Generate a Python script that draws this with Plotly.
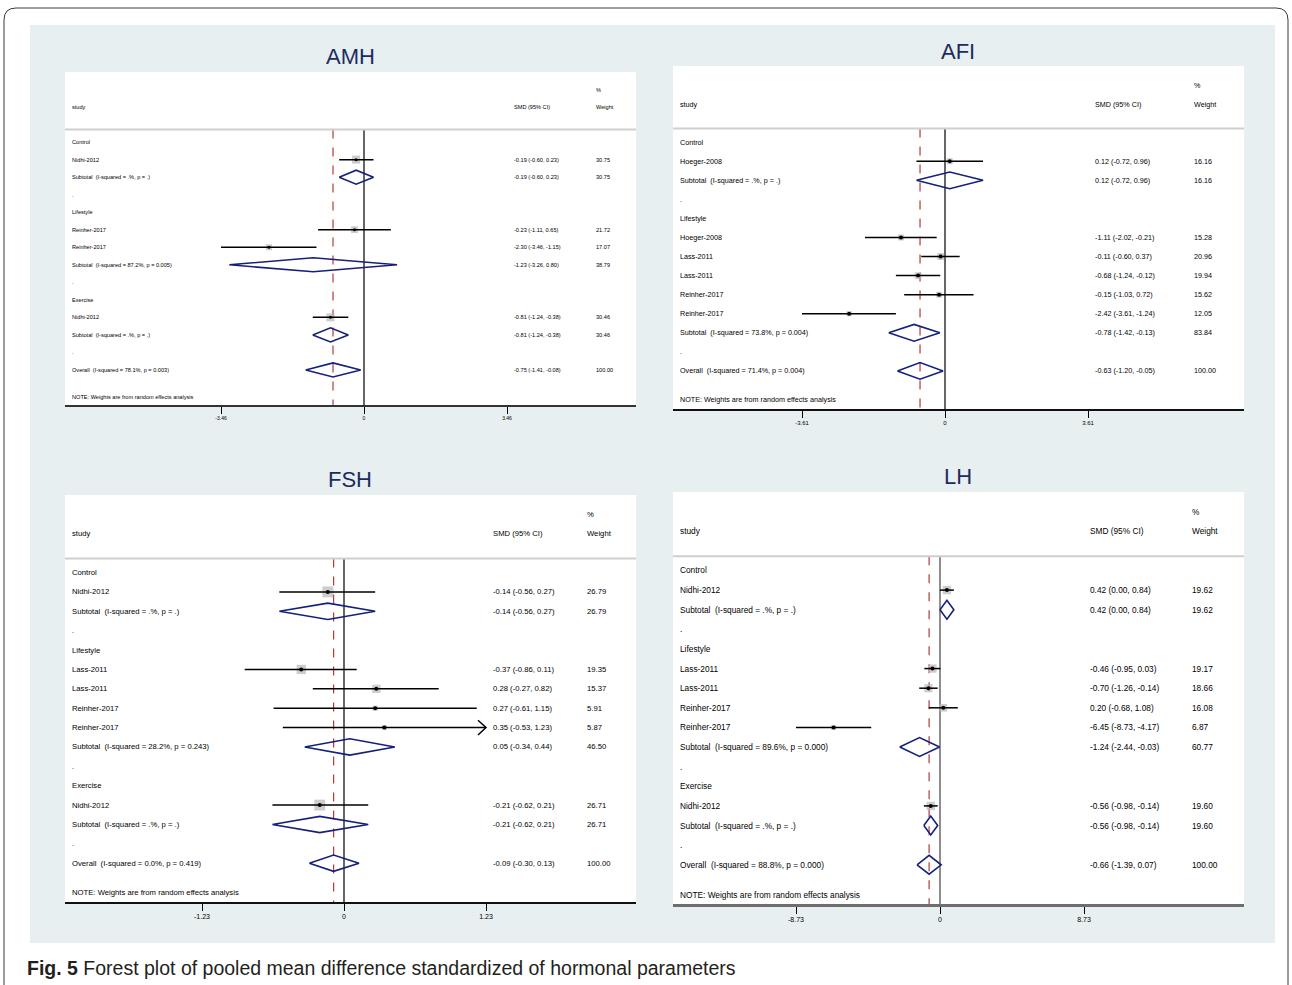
import plotly.graph_objects as go

FIG_W, FIG_H = 1292, 985

# ---------------- data ----------------
AMH_LABELS = ["Control", "Nidhi-2012", "Subtotal  (I-squared = .%, p = .)", ".", "Lifestyle",
              "Reinher-2017", "Reinher-2017", "Subtotal  (I-squared = 87.2%, p = 0.005)", ".",
              "Exercise", "Nidhi-2012", "Subtotal  (I-squared = .%, p = .)", ".",
              "Overall  (I-squared = 78.1%, p = 0.003)"]
AMH_ES = [None, -0.19, -0.19, None, None, -0.23, -2.30, -1.23, None, None, -0.81, -0.81, None, -0.75]
AMH_LO = [None, -0.60, -0.60, None, None, -1.11, -3.46, -3.26, None, None, -1.24, -1.24, None, -1.41]
AMH_HI = [None, 0.23, 0.23, None, None, 0.65, -1.15, 0.80, None, None, -0.38, -0.38, None, -0.08]
AMH_W = [None, 30.75, 30.75, None, None, 21.72, 17.07, 38.79, None, None, 30.46, 30.46, None, 100.00]
AMH_TICK = 3.46

AFI_LABELS = ["Control", "Hoeger-2008", "Subtotal  (I-squared = .%, p = .)", ".", "Lifestyle",
              "Hoeger-2008", "Lass-2011", "Lass-2011", "Reinher-2017", "Reinher-2017",
              "Subtotal  (I-squared = 73.8%, p = 0.004)", ".",
              "Overall  (I-squared = 71.4%, p = 0.004)"]
AFI_ES = [None, 0.12, 0.12, None, None, -1.11, -0.11, -0.68, -0.15, -2.42, -0.78, None, -0.63]
AFI_LO = [None, -0.72, -0.72, None, None, -2.02, -0.60, -1.24, -1.03, -3.61, -1.42, None, -1.20]
AFI_HI = [None, 0.96, 0.96, None, None, -0.21, 0.37, -0.12, 0.72, -1.24, -0.13, None, -0.05]
AFI_W = [None, 16.16, 16.16, None, None, 15.28, 20.96, 19.94, 15.62, 12.05, 83.84, None, 100.00]
AFI_TICK = 3.61

FSH_LABELS = ["Control", "Nidhi-2012", "Subtotal  (I-squared = .%, p = .)", ".", "Lifestyle",
              "Lass-2011", "Lass-2011", "Reinher-2017", "Reinher-2017",
              "Subtotal  (I-squared = 28.2%, p = 0.243)", ".", "Exercise", "Nidhi-2012",
              "Subtotal  (I-squared = .%, p = .)", ".", "Overall  (I-squared = 0.0%, p = 0.419)"]
FSH_ES = [None, -0.14, -0.14, None, None, -0.37, 0.28, 0.27, 0.35, 0.05, None, None, -0.21, -0.21, None, -0.09]
FSH_LO = [None, -0.56, -0.56, None, None, -0.86, -0.27, -0.61, -0.53, -0.34, None, None, -0.62, -0.62, None, -0.30]
FSH_HI = [None, 0.27, 0.27, None, None, 0.11, 0.82, 1.15, 1.23, 0.44, None, None, 0.21, 0.21, None, 0.13]
FSH_W = [None, 26.79, 26.79, None, None, 19.35, 15.37, 5.91, 5.87, 46.50, None, None, 26.71, 26.71, None, 100.00]
FSH_TICK = 1.23
FSH_ARROW_ROWS = [8]

LH_LABELS = ["Control", "Nidhi-2012", "Subtotal  (I-squared = .%, p = .)", ".", "Lifestyle",
             "Lass-2011", "Lass-2011", "Reinher-2017", "Reinher-2017",
             "Subtotal  (I-squared = 89.6%, p = 0.000)", ".", "Exercise", "Nidhi-2012",
             "Subtotal  (I-squared = .%, p = .)", ".", "Overall  (I-squared = 88.8%, p = 0.000)"]
LH_ES = [None, 0.42, 0.42, None, None, -0.46, -0.70, 0.20, -6.45, -1.24, None, None, -0.56, -0.56, None, -0.66]
LH_LO = [None, 0.00, 0.00, None, None, -0.95, -1.26, -0.68, -8.73, -2.44, None, None, -0.98, -0.98, None, -1.39]
LH_HI = [None, 0.84, 0.84, None, None, 0.03, -0.14, 1.08, -4.17, -0.03, None, None, -0.14, -0.14, None, 0.07]
LH_W = [None, 19.62, 19.62, None, None, 19.17, 18.66, 16.08, 6.87, 60.77, None, None, 19.60, 19.60, None, 100.00]
LH_TICK = 8.73

CAPTION_BOLD = "Fig. 5"
CAPTION_TEXT = "Forest plot of pooled mean difference standardized of hormonal parameters"

# ---------------- style / layout ----------------
FONT = "Liberation Sans, Arial, sans-serif"
NAVY = "#14207a"
RED = "#b23a3a"
BOX_GRAY = "#b8b8b8"
PANEL_BG = "#e8eff1"

PANELS = [
    dict(title="AMH", labels=AMH_LABELS, es=AMH_ES, lo=AMH_LO, hi=AMH_HI, w=AMH_W, tick=AMH_TICK,
         arrows=[], box=(65, 72, 636, 405), zero_px=364, tick_px=507, cols=(70, 512, 594),
         font=5.6, tickfont=5, k=1.45, dot=3, dh=0.4, title_xy=(350, 57),
         axis_color="#333333", axis_w=2, zero_color="black"),
    dict(title="AFI", labels=AFI_LABELS, es=AFI_ES, lo=AFI_LO, hi=AFI_HI, w=AFI_W, tick=AFI_TICK,
         arrows=[], box=(673, 66, 1244, 409), zero_px=945, tick_px=1088, cols=(678, 1093, 1192),
         font=7.2, tickfont=6, k=1.5, dot=4, dh=0.44, title_xy=(958, 52),
         axis_color="#111111", axis_w=2, zero_color="black"),
    dict(title="FSH", labels=FSH_LABELS, es=FSH_ES, lo=FSH_LO, hi=FSH_HI, w=FSH_W, tick=FSH_TICK,
         arrows=FSH_ARROW_ROWS, box=(65, 495, 636, 902), zero_px=344, tick_px=486, cols=(70, 491, 585),
         font=7.7, tickfont=7, k=2.1, dot=4, dh=0.42, title_xy=(350, 479),
         axis_color="#111111", axis_w=2, zero_color="black"),
    dict(title="LH", labels=LH_LABELS, es=LH_ES, lo=LH_LO, hi=LH_HI, w=LH_W, tick=LH_TICK,
         arrows=[], box=(673, 492, 1244, 904), zero_px=940, tick_px=1084, cols=(678, 1088, 1190),
         font=8.3, tickfont=7, k=1.9, dot=4, dh=0.48, title_xy=(958, 476),
         axis_color="#6e6e6e", axis_w=3, zero_color="#444444"),
]

fig = go.Figure()
shapes = []
annotations = []

# background panel + border
shapes.append(dict(type="rect", xref="paper", yref="paper", x0=30 / FIG_W, x1=1275 / FIG_W,
                   y0=1 - 943 / FIG_H, y1=1 - 25 / FIG_H, fillcolor=PANEL_BG, line=dict(width=0),
                   layer="below"))
shapes.append(dict(type="path", xref="paper", yref="paper",
                   path="M {a} {b} L {a} {c} Q {a} {d} {e} {d} L {f} {d} Q {g} {d} {g} {c} L {g} {b}".format(
                       a=4 / FIG_W, b=0, c=1 - 20 / FIG_H, d=1 - 8 / FIG_H, e=16 / FIG_W,
                       f=1276 / FIG_W, g=1288 / FIG_W),
                   line=dict(color="#3a3a3a", width=1), layer="below"))

layout_axes = {}
for i, p in enumerate(PANELS):
    n = i + 1
    xa = "x" if n == 1 else f"x{n}"
    ya = "y" if n == 1 else f"y{n}"
    x0, ytop, x1, ybot = p["box"]
    ppu = (p["tick_px"] - p["zero_px"]) / p["tick"]
    xr = [(x0 - p["zero_px"]) / ppu, (x1 - p["zero_px"]) / ppu]
    last = len(p["labels"]) - 1
    yr = [last + 2, -4]

    # white plot area
    shapes.append(dict(type="rect", xref="paper", yref="paper", x0=x0 / FIG_W, x1=x1 / FIG_W,
                       y0=1 - ybot / FIG_H, y1=1 - ytop / FIG_H, fillcolor="white",
                       line=dict(width=0), layer="below"))

    layout_axes["xaxis" if n == 1 else f"xaxis{n}"] = dict(
        domain=[x0 / FIG_W, x1 / FIG_W], range=xr, anchor=ya,
        tickvals=[-p["tick"], 0, p["tick"]],
        ticktext=[f"{-p['tick']:.2f}", "0", f"{p['tick']:.2f}"],
        ticks="outside", ticklen=7, tickwidth=1, tickcolor="black",
        showline=True, linecolor=p["axis_color"], linewidth=p["axis_w"],
        showgrid=False, zeroline=False, fixedrange=True,
        tickfont=dict(family=FONT, size=p["tickfont"], color="black"))
    layout_axes["yaxis" if n == 1 else f"yaxis{n}"] = dict(
        domain=[1 - ybot / FIG_H, 1 - ytop / FIG_H], range=yr, anchor=xa,
        visible=False, fixedrange=True)

    sep_y = -0.72
    overall_es = p["es"][last]
    shapes.append(dict(type="line", xref=f"{xa} domain", yref=ya, x0=0, x1=1, y0=sep_y, y1=sep_y,
                       line=dict(color="#cfcfcf", width=2)))
    shapes.append(dict(type="line", xref=xa, yref=ya, x0=0, x1=0, y0=sep_y, y1=last + 2,
                       line=dict(color=p["zero_color"], width=1.2), layer="below"))
    shapes.append(dict(type="line", xref=xa, yref=ya, x0=overall_es, x1=overall_es, y0=sep_y,
                       y1=last + 2, line=dict(color=RED, width=1.2, dash="dash"), layer="below"))

    ci_x, ci_y = [], []
    sq_x, sq_y, sq_s = [], [], []
    dm_x, dm_y = [], []
    ar_x, ar_y = [], []
    for r, lab in enumerate(p["labels"]):
        es, lo, hi, w = p["es"][r], p["lo"][r], p["hi"][r], p["w"][r]
        if es is None:
            continue
        if lab.startswith("Subtotal") or lab.startswith("Overall"):
            dm_x += [lo, es, hi, es, lo, None]
            dm_y += [r, r - p["dh"], r, r + p["dh"], r, None]
        else:
            ci_x += [lo, hi, None]
            ci_y += [r, r, None]
            sq_x.append(es)
            sq_y.append(r)
            sq_s.append(p["k"] * w ** 0.5)
            if r in p["arrows"]:
                dx = 8 / ppu
                ar_x += [hi - dx, hi, hi - dx, None]
                ar_y += [r - 0.38, r, r + 0.38, None]

    fig.add_trace(go.Scatter(x=sq_x, y=sq_y, mode="markers", xaxis=xa, yaxis=ya,
                             marker=dict(symbol="square", size=sq_s, color=BOX_GRAY, line=dict(width=0)),
                             hoverinfo="skip", showlegend=False))
    fig.add_trace(go.Scatter(x=ci_x, y=ci_y, mode="lines", xaxis=xa, yaxis=ya,
                             line=dict(color="black", width=1.5), hoverinfo="skip", showlegend=False))
    if ar_x:
        fig.add_trace(go.Scatter(x=ar_x, y=ar_y, mode="lines", xaxis=xa, yaxis=ya,
                                 line=dict(color="black", width=1.5), hoverinfo="skip", showlegend=False))
    fig.add_trace(go.Scatter(x=sq_x, y=sq_y, mode="markers", xaxis=xa, yaxis=ya,
                             marker=dict(symbol="circle", size=p["dot"], color="black"),
                             hoverinfo="skip", showlegend=False))
    fig.add_trace(go.Scatter(x=dm_x, y=dm_y, mode="lines", xaxis=xa, yaxis=ya,
                             line=dict(color=NAVY, width=1.6), hoverinfo="skip", showlegend=False))

    c0, c1, c2 = [(c - x0) / (x1 - x0) for c in p["cols"]]
    tf = dict(family=FONT, size=p["font"], color="black")

    def txt(xd, yv, s, tf=tf, xa=xa, ya=ya):
        annotations.append(dict(xref=f"{xa} domain", yref=ya, x=xd, y=yv, text=s, showarrow=False,
                                xanchor="left", yanchor="middle", font=tf))

    txt(c0, -2, "study")
    txt(c1, -2, "SMD (95% CI)")
    txt(c2, -3, "%")
    txt(c2, -2, "Weight")
    for r, lab in enumerate(p["labels"]):
        txt(c0, r, lab.replace("  ", "\u00a0\u00a0"))
        es, lo, hi, w = p["es"][r], p["lo"][r], p["hi"][r], p["w"][r]
        if es is not None:
            txt(c1, r, f"{es:.2f} ({lo:.2f}, {hi:.2f})")
            txt(c2, r, f"{w:.2f}")
    txt(c0, last + 1.52, "NOTE: Weights are from random effects analysis")

    tx, ty = p["title_xy"]
    annotations.append(dict(xref="paper", yref="paper", x=tx / FIG_W, y=1 - ty / FIG_H,
                            text=p["title"], showarrow=False, xanchor="center", yanchor="middle",
                            font=dict(family=FONT, size=22, color="#1d2b5e")))

annotations.append(dict(xref="paper", yref="paper", x=25 / FIG_W, y=1 - 968 / FIG_H,
                        text=f"<b>{CAPTION_BOLD}</b> {CAPTION_TEXT}", showarrow=False,
                        xanchor="left", yanchor="middle",
                        font=dict(family=FONT, size=19.5, color="#231f20")))

fig.update_layout(width=FIG_W, height=FIG_H, margin=dict(l=0, r=0, t=0, b=0),
                  paper_bgcolor="white", plot_bgcolor="rgba(0,0,0,0)",
                  shapes=shapes, annotations=annotations, showlegend=False, **layout_axes)

fig.write_html("out.html", config={"displayModeBar": False},
               post_script="document.body.style.margin='0';document.body.style.overflow='hidden';")
